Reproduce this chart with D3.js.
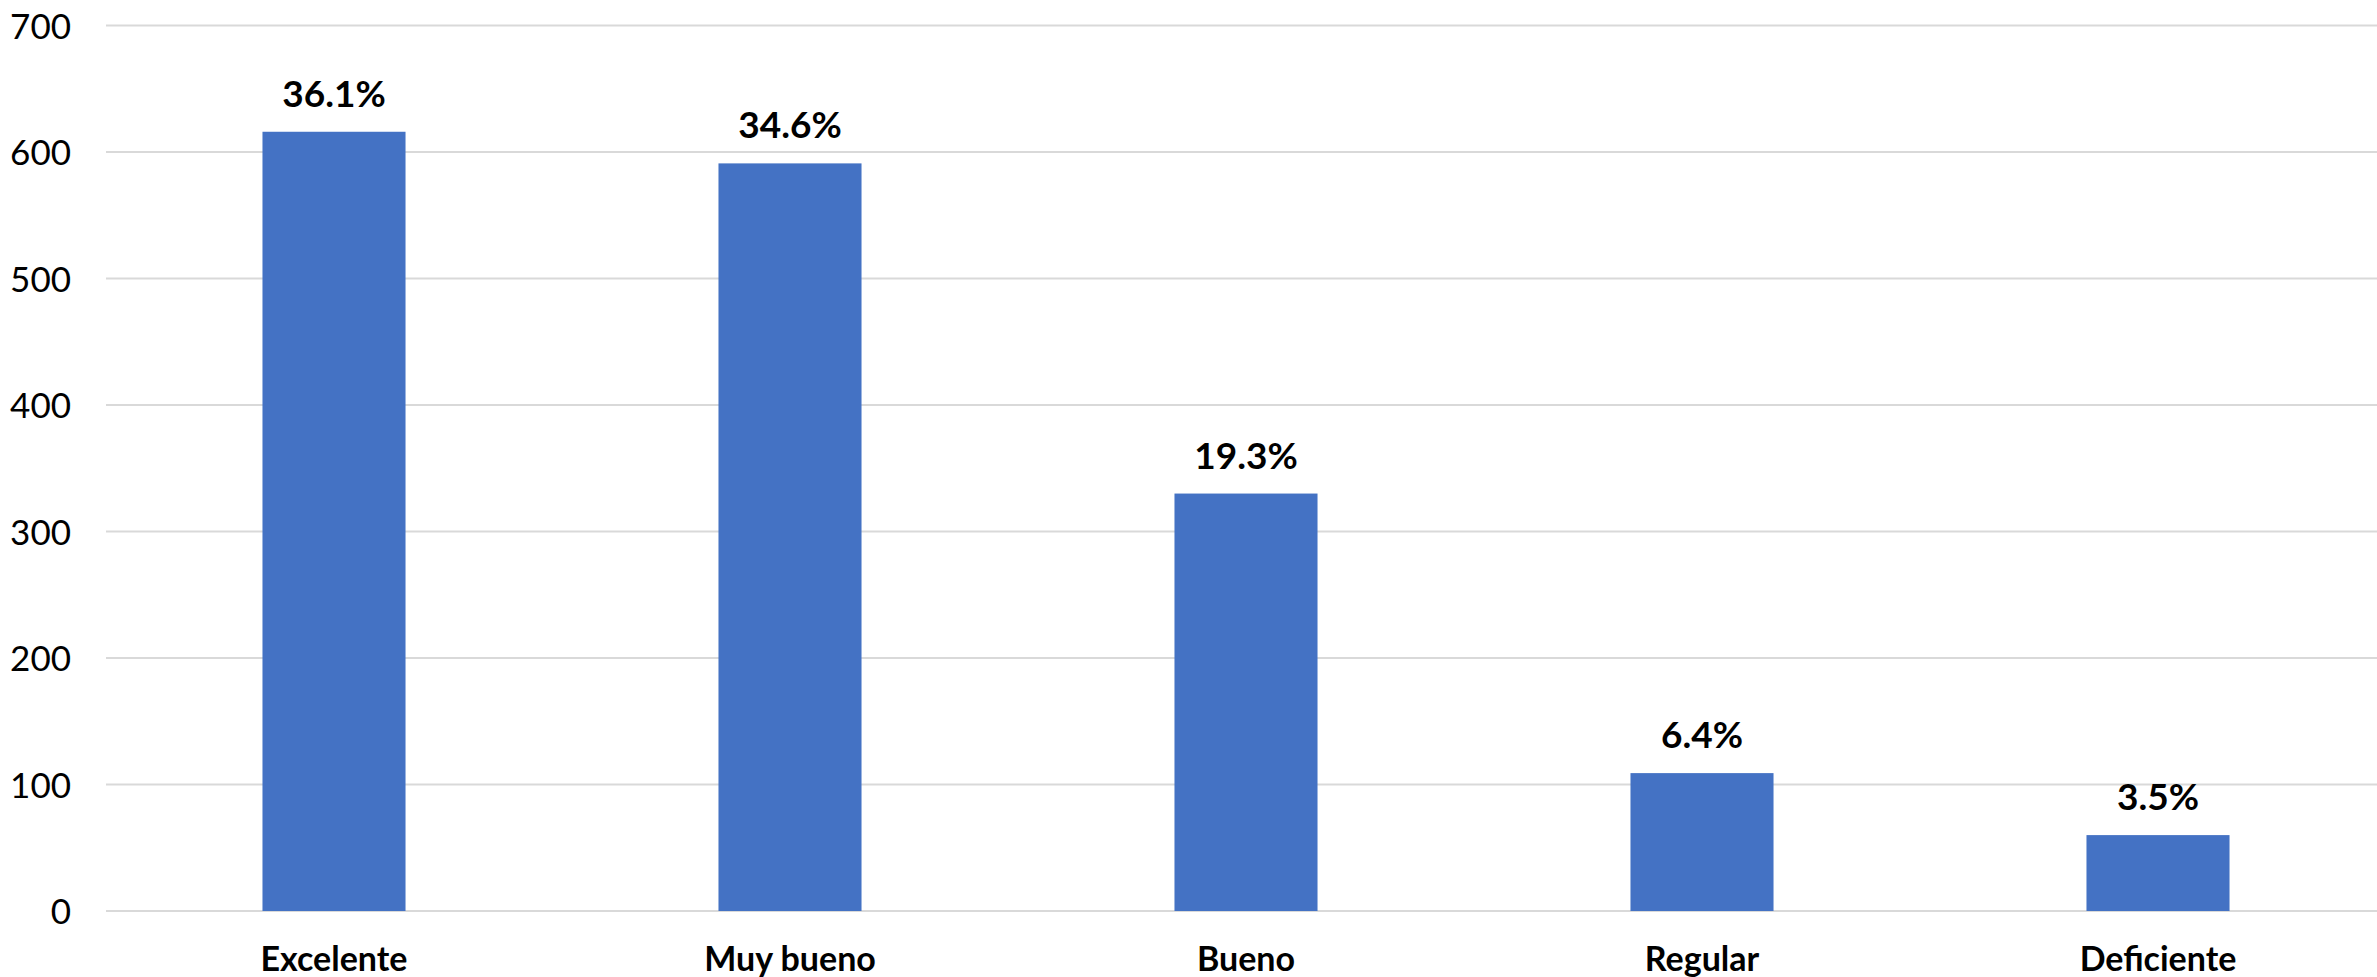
<!DOCTYPE html>
<html>
<head>
<meta charset="utf-8">
<script src="https://cdn.jsdelivr.net/npm/d3@7"></script>
<style>
  html, body { margin: 0; padding: 0; background: #fff; }
  svg { display: block; }
  text { font-family: Lato, "Open Sans", sans-serif; }
</style>
</head>
<body>
<svg id="chart" width="2377" height="977"></svg>
<script>
const categories = ["Excelente", "Muy bueno", "Bueno", "Regular", "Deficiente"];
const values = [616, 591, 330, 109, 60];
const percentLabels = ["36.1%", "34.6%", "19.3%", "6.4%", "3.5%"];
const yTicks = [0, 100, 200, 300, 400, 500, 600, 700];

(function () {
const svg = d3.select("#chart");
const W = 2377;
const plotLeft = 106, plotRight = 2386, plotTop = 25.5, plotBottom = 911;

const x = d3.scaleBand().domain(categories).range([plotLeft, plotRight]).padding(0);
const y = d3.scaleLinear().domain([0, 700]).range([plotBottom, plotTop]);
const barW = x.bandwidth() * 0.3137;

// gridlines
svg.append("g").selectAll("line").data(yTicks).join("line")
  .attr("x1", plotLeft).attr("x2", W)
  .attr("y1", d => y(d)).attr("y2", d => y(d))
  .attr("stroke", "#d9d9d9").attr("stroke-width", 2);

// y axis labels
const yAxis = d3.axisLeft(y).tickValues(yTicks).tickSize(0).tickPadding(0);
const yg = svg.append("g").attr("transform", "translate(71,0)").call(yAxis);
yg.select(".domain").remove();
yg.selectAll("text").attr("x", 0).attr("font-size", 35).attr("fill", "#000")
  .attr("font-family", "Lato, 'Open Sans', sans-serif").attr("dy", "0.36em");

// bars
svg.append("g").selectAll("rect").data(values).join("rect")
  .attr("x", (d, i) => x(categories[i]) + x.bandwidth() / 2 - barW / 2)
  .attr("width", barW)
  .attr("y", d => y(d))
  .attr("height", d => y(0) - y(d))
  .attr("fill", "#4472C4");

// value labels
svg.append("g").selectAll("text").data(values).join("text")
  .attr("x", (d, i) => x(categories[i]) + x.bandwidth() / 2)
  .attr("y", d => y(d) - 25)
  .attr("text-anchor", "middle")
  .attr("font-size", 37).attr("font-weight", "bold").attr("fill", "#000")
  .text((d, i) => percentLabels[i]);

// x axis labels
const xAxis = d3.axisBottom(x).tickSize(0).tickPadding(0);
const xg = svg.append("g").attr("transform", `translate(0,${plotBottom})`).call(xAxis);
xg.select(".domain").remove();
xg.selectAll("text").attr("font-size", 34).attr("font-weight", "bold").attr("fill", "#000")
  .attr("font-family", "Lato, 'Open Sans', sans-serif")
  .attr("dy", null).attr("y", 60);
})();
</script>
</body>
</html>
